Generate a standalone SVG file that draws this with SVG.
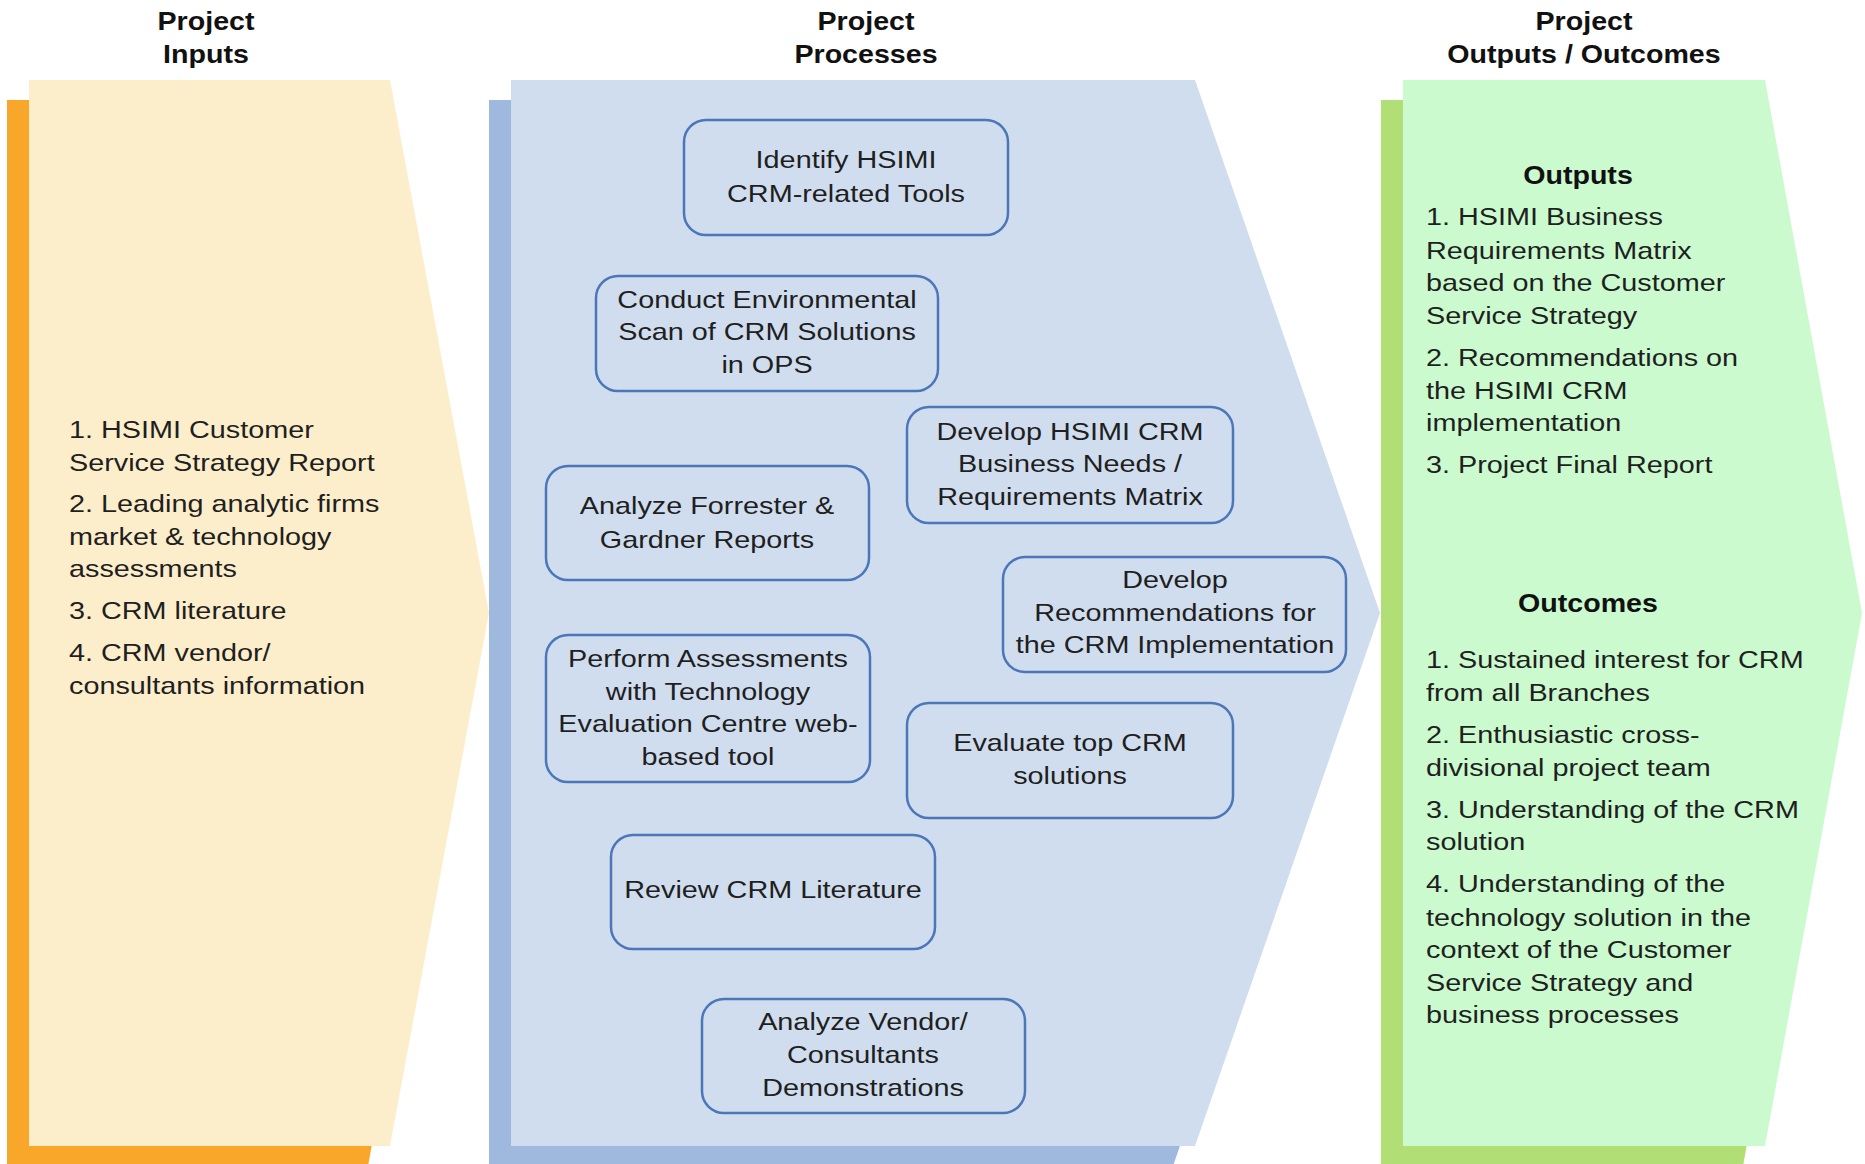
<svg xmlns="http://www.w3.org/2000/svg" width="1865" height="1164" viewBox="0 0 1865 1164">
<style>
.t{font-family:"Liberation Sans",Arial,sans-serif;font-size:24px;fill:#1f1f1f}
.h{font-family:"Liberation Sans",Arial,sans-serif;font-size:26px;font-weight:bold;fill:#111}
.box{fill:none;stroke:#4b77b9;stroke-width:2.5}
</style>
<rect width="1865" height="1164" fill="#ffffff"/>
<g id="panels">
  <polygon points="7,100 368,100 467,633 368,1166 7,1166" fill="#f8a72b"/>
  <polygon points="29,80 390,80 489,613 390,1146 29,1146" fill="#fdeecb"/>
  <polygon points="489,100 1173,100 1358,633 1173,1166 489,1166" fill="#9fb9de"/>
  <polygon points="511,80 1195,80 1380,613 1195,1146 511,1146" fill="#d0ddee"/>
  <polygon points="1381,100 1743,100 1840,633 1743,1166 1381,1166" fill="#b1de75"/>
  <polygon points="1403,80 1765,80 1862,613 1765,1146 1403,1146" fill="#cbfacf"/>
</g>
<g id="headers">
  <g transform="translate(206,0) scale(1.1,1)"><text class="h" x="0" y="30" text-anchor="middle">Project</text><text class="h" x="0" y="63" text-anchor="middle">Inputs</text></g>
  <g transform="translate(866,0) scale(1.1,1)"><text class="h" x="0" y="30" text-anchor="middle">Project</text><text class="h" x="0" y="63" text-anchor="middle">Processes</text></g>
  <g transform="translate(1584,0) scale(1.1,1)"><text class="h" x="0" y="30" text-anchor="middle">Project</text><text class="h" x="0" y="63" text-anchor="middle">Outputs / Outcomes</text></g>
</g>
<g id="inputs" transform="translate(69,0) scale(1.2,1)">
  <text class="t" x="0" y="438">1. HSIMI Customer</text>
  <text class="t" x="0" y="471">Service Strategy Report</text>
  <text class="t" x="0" y="512">2. Leading analytic firms</text>
  <text class="t" x="0" y="545">market &amp; technology</text>
  <text class="t" x="0" y="577">assessments</text>
  <text class="t" x="0" y="619">3. CRM literature</text>
  <text class="t" x="0" y="661">4. CRM vendor/</text>
  <text class="t" x="0" y="694">consultants information</text>
</g>
<g id="connectors"/>
<g id="n-identify">
  <rect class="box" x="684" y="120" width="324" height="115" rx="22"/>
  <g transform="translate(846,0) scale(1.2,1)"><text class="t" x="0" y="168" text-anchor="middle">Identify HSIMI</text><text class="t" x="0" y="202" text-anchor="middle">CRM-related Tools</text></g>
</g>
<g id="n-scan">
  <rect class="box" x="596" y="276" width="342" height="115" rx="22"/>
  <g transform="translate(767,0) scale(1.2,1)"><text class="t" x="0" y="308" text-anchor="middle">Conduct Environmental</text><text class="t" x="0" y="340" text-anchor="middle">Scan of CRM Solutions</text><text class="t" x="0" y="373" text-anchor="middle">in OPS</text></g>
</g>
<g id="n-needs">
  <rect class="box" x="907" y="407" width="326" height="116" rx="22"/>
  <g transform="translate(1070,0) scale(1.2,1)"><text class="t" x="0" y="440" text-anchor="middle">Develop HSIMI CRM</text><text class="t" x="0" y="472" text-anchor="middle">Business Needs /</text><text class="t" x="0" y="505" text-anchor="middle">Requirements Matrix</text></g>
</g>
<g id="n-forrester">
  <rect class="box" x="546" y="466" width="323" height="114" rx="22"/>
  <g transform="translate(707,0) scale(1.2,1)"><text class="t" x="0" y="514" text-anchor="middle">Analyze Forrester &amp;</text><text class="t" x="0" y="548" text-anchor="middle">Gardner Reports</text></g>
</g>
<g id="n-recommend">
  <rect class="box" x="1003" y="557" width="343" height="115" rx="22"/>
  <g transform="translate(1175,0) scale(1.2,1)"><text class="t" x="0" y="588" text-anchor="middle">Develop</text><text class="t" x="0" y="621" text-anchor="middle">Recommendations for</text><text class="t" x="0" y="653" text-anchor="middle">the CRM Implementation</text></g>
</g>
<g id="n-assess">
  <rect class="box" x="546" y="635" width="324" height="147" rx="22"/>
  <g transform="translate(708,0) scale(1.2,1)"><text class="t" x="0" y="667" text-anchor="middle">Perform Assessments</text><text class="t" x="0" y="700" text-anchor="middle">with Technology</text><text class="t" x="0" y="732" text-anchor="middle">Evaluation Centre web-</text><text class="t" x="0" y="765" text-anchor="middle">based tool</text></g>
</g>
<g id="n-evaluate">
  <rect class="box" x="907" y="703" width="326" height="115" rx="22"/>
  <g transform="translate(1070,0) scale(1.2,1)"><text class="t" x="0" y="751" text-anchor="middle">Evaluate top CRM</text><text class="t" x="0" y="784" text-anchor="middle">solutions</text></g>
</g>
<g id="n-review">
  <rect class="box" x="611" y="835" width="324" height="114" rx="22"/>
  <g transform="translate(773,0) scale(1.2,1)"><text class="t" x="0" y="898" text-anchor="middle">Review CRM Literature</text></g>
</g>
<g id="n-vendor">
  <rect class="box" x="702" y="999" width="323" height="114" rx="22"/>
  <g transform="translate(863,0) scale(1.2,1)"><text class="t" x="0" y="1030" text-anchor="middle">Analyze Vendor/</text><text class="t" x="0" y="1063" text-anchor="middle">Consultants</text><text class="t" x="0" y="1096" text-anchor="middle">Demonstrations</text></g>
</g>
<g id="outputs">
  <g transform="translate(1578,0) scale(1.1,1)"><text class="h" x="0" y="184" text-anchor="middle">Outputs</text></g>
  <g transform="translate(1426,0) scale(1.2,1)">
    <text class="t" x="0" y="225">1. HSIMI Business</text>
    <text class="t" x="0" y="259">Requirements Matrix</text>
    <text class="t" x="0" y="291">based on the Customer</text>
    <text class="t" x="0" y="324">Service Strategy</text>
    <text class="t" x="0" y="366">2. Recommendations on</text>
    <text class="t" x="0" y="399">the HSIMI CRM</text>
    <text class="t" x="0" y="431">implementation</text>
    <text class="t" x="0" y="473">3. Project Final Report</text>
  </g>
</g>
<g id="outcomes">
  <g transform="translate(1588,0) scale(1.1,1)"><text class="h" x="0" y="612" text-anchor="middle">Outcomes</text></g>
  <g transform="translate(1426,0) scale(1.2,1)">
    <text class="t" x="0" y="668">1. Sustained interest for CRM</text>
    <text class="t" x="0" y="701">from all Branches</text>
    <text class="t" x="0" y="743">2. Enthusiastic cross-</text>
    <text class="t" x="0" y="776">divisional project team</text>
    <text class="t" x="0" y="818">3. Understanding of the CRM</text>
    <text class="t" x="0" y="850">solution</text>
    <text class="t" x="0" y="892">4. Understanding of the</text>
    <text class="t" x="0" y="926">technology solution in the</text>
    <text class="t" x="0" y="958">context of the Customer</text>
    <text class="t" x="0" y="991">Service Strategy and</text>
    <text class="t" x="0" y="1023">business processes</text>
  </g>
</g>
</svg>
